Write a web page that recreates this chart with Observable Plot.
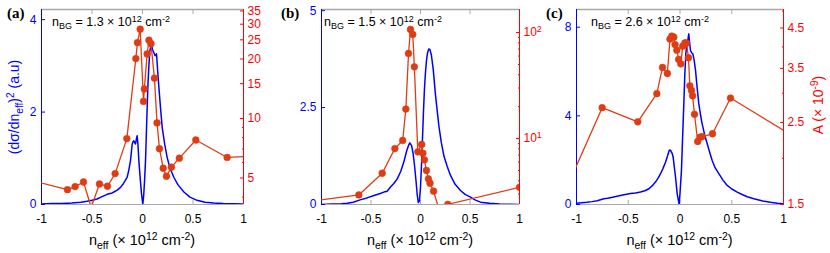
<!DOCTYPE html>
<html><head><meta charset="utf-8">
<script src="https://cdn.jsdelivr.net/npm/d3@7"></script>
<script src="https://cdn.jsdelivr.net/npm/@observablehq/plot@0.6"></script>
<style>
body{margin:0;background:#fff;font-family:"Liberation Sans",Arial,Helvetica,sans-serif;}
#fig{position:relative;width:830px;height:253px;overflow:hidden;background:#fff;}
#fig svg{position:absolute;top:0;}
.t{position:absolute;white-space:nowrap;line-height:1;}
.t .sup{font-size:0.72em;vertical-align:0.5em;line-height:0;}
.t .sub{font-size:0.72em;vertical-align:-0.35em;line-height:0;}
.plab{font-family:"Liberation Serif","Times New Roman",serif;font-weight:bold;font-size:15px;}
.nbg{font-size:12.5px;color:#000;}
.xl{font-size:14.5px;color:#000;transform:translateX(-50%);}
.rot{font-size:14px;transform:translate(-50%,-50%) rotate(-90deg);}
</style></head><body><div id="fig"></div>
<script>
// ---------- data ----------
const xTicks = [-1, -0.5, 0, 0.5, 1];
const panelLabels = ["(a)", "(b)", "(c)"];
const nbgValues = ["1.3", "1.5", "2.6"];

// panel (a)
const aBlueX = [-1.00,-0.90,-0.80,-0.70,-0.61,-0.55,-0.50,-0.45,-0.40,-0.35,-0.30,-0.284,-0.25,-0.218,-0.19,-0.17,-0.152,-0.135,-0.119,-0.102,-0.094,-0.086,-0.078,-0.069,-0.060,-0.053,-0.045,-0.036,-0.022,-0.010,0.003,0.012,0.020,0.030,0.042,0.053,0.063,0.073,0.081,0.089,0.100,0.112,0.125,0.133,0.139,0.150,0.162,0.178,0.195,0.220,0.244,0.270,0.310,0.350,0.410,0.470,0.540,0.620,0.706,0.800,0.900,1.000];
const aBlueY = [0.01,0.02,0.02,0.03,0.05,0.07,0.09,0.12,0.17,0.22,0.25,0.27,0.31,0.37,0.45,0.52,0.59,0.75,0.95,1.31,1.36,1.38,1.34,1.31,1.42,1.49,1.30,0.95,0.55,0.24,0.00,0.20,0.50,0.95,1.80,2.54,3.00,3.33,3.40,3.44,3.35,3.29,3.22,3.24,3.26,2.90,2.54,2.10,1.67,1.30,1.02,0.80,0.59,0.43,0.27,0.16,0.09,0.05,0.03,0.02,0.015,0.01];
const aRedX = [-1.1,-0.743,-0.667,-0.584,-0.508,-0.426,-0.347,-0.271,-0.155,-0.066,-0.050,-0.023,0.010,0.018,0.046,0.064,0.084,0.118,0.144,0.168,0.205,0.237,0.286,0.365,0.528,0.838,1.1];
const aRedY = [4.86,4.36,4.52,4.77,3.55,4.66,4.54,5.26,7.91,20.1,24.2,28.3,12.2,14.1,21.2,24.9,23.9,16.0,9.5,7.03,5.60,5.10,5.67,6.30,7.78,6.35,6.45];
const aBlueTicks = [0, 2, 4];
const aRedTicks = [5, 10, 15, 20, 25, 30, 35];
const aRedMinor = [4, 6, 7, 8, 9];

// panel (b)
const bBlueX = [-1.0,-0.9,-0.8,-0.74,-0.68,-0.61,-0.54,-0.47,-0.40,-0.37,-0.337,-0.303,-0.27,-0.235,-0.20,-0.168,-0.14,-0.12,-0.108,-0.09,-0.075,-0.06,-0.045,-0.033,-0.022,-0.01,0.0,0.01,0.02,0.03,0.04,0.05,0.06,0.07,0.084,0.095,0.11,0.128,0.152,0.185,0.21,0.236,0.27,0.303,0.35,0.404,0.45,0.505,0.55,0.606,0.7,0.8,0.9,1.0];
const bBlueY = [0.0,0.01,0.02,0.03,0.06,0.12,0.17,0.23,0.29,0.32,0.34,0.45,0.54,0.66,0.85,1.1,1.38,1.53,1.59,1.52,1.32,1.0,0.6,0.25,0.05,0.1,0.45,1.0,1.69,2.4,2.98,3.4,3.7,3.9,4.01,4.0,3.85,3.5,2.81,2.04,1.6,1.26,0.98,0.75,0.52,0.36,0.26,0.19,0.12,0.06,0.03,0.015,0.008,0.0];
const bRedX = [-1.1,-0.623,-0.387,-0.259,-0.180,-0.148,-0.121,-0.101,-0.078,-0.062,-0.027,0.012,0.024,0.040,0.060,0.080,0.096,0.132,0.178,0.276,1.0];
const bRedY = [2.57,2.94,4.71,8.05,9.6,19.0,63.5,107,96,47.5,7.5,8.8,7.27,6.3,5.0,4.17,3.79,3.19,2.3,2.40,3.47];
const bBlueTicks = [0, 2.5, 5];
const bRedTicks = [10, 100];
const bRedMinor = [3,4,5,6,7,8,9,20,30,40,50,60,70,80,90];

// panel (c)
const cBlueX = [-1.0,-0.95,-0.9,-0.85,-0.8,-0.736,-0.7,-0.65,-0.6,-0.575,-0.53,-0.478,-0.43,-0.382,-0.34,-0.30,-0.27,-0.237,-0.21,-0.188,-0.165,-0.14,-0.12,-0.105,-0.095,-0.085,-0.075,-0.066,-0.055,-0.043,-0.027,-0.008,0.0,0.014,0.025,0.037,0.046,0.056,0.065,0.075,0.085,0.093,0.101,0.112,0.124,0.137,0.150,0.165,0.182,0.198,0.214,0.238,0.263,0.287,0.311,0.34,0.375,0.415,0.456,0.5,0.553,0.6,0.65,0.714,0.8,0.874,0.94,1.0];
const cBlueY = [0.06,0.08,0.10,0.13,0.17,0.26,0.28,0.33,0.38,0.41,0.45,0.50,0.52,0.56,0.62,0.71,0.84,1.01,1.20,1.39,1.62,1.91,2.20,2.44,2.46,2.39,2.30,2.13,1.70,1.23,0.48,0.0,0.5,1.53,3.0,4.54,5.8,6.8,7.2,7.4,7.7,7.3,6.95,6.85,6.8,6.5,6.05,5.3,4.54,4.05,3.64,3.15,2.74,2.35,1.99,1.65,1.39,1.10,0.86,0.70,0.56,0.45,0.35,0.26,0.16,0.10,0.06,0.03];
const cRedX = [-1.1,-0.752,-0.408,-0.224,-0.169,-0.122,-0.097,-0.079,-0.060,-0.048,-0.031,-0.013,0.008,0.026,0.047,0.063,0.082,0.095,0.111,0.122,0.140,0.171,0.195,0.214,0.314,0.488,1.1];
const cRedY = [1.65,2.74,2.51,2.99,3.52,3.39,4.20,4.28,4.25,4.06,3.92,3.70,3.60,4.02,4.10,4.10,3.74,3.14,3.05,2.95,2.63,2.22,2.28,2.29,2.33,2.91,2.29];
const cBlueTicks = [0, 4, 8];
const cRedTicks = [1.5, 2.5, 3.5, 4.5];
const cRedMinor = [2, 3, 4, 5];

// ---------- drawing ----------
const BLUE = "#0000ff", RED_AXIS = "#ff0000", RED = "#e03c14", GRAY = "#a8a8a8";
const FONT = '"Liberation Sans", Arial, Helvetica, sans-serif';
const fig = document.getElementById("fig");

function zip(xs, ys) { return xs.map((x, i) => ({x, y: ys[i]})); }

function addText(html, cls, left, top, color) {
  const d = document.createElement("div");
  d.className = "t " + cls;
  d.innerHTML = html;
  d.style.left = left + "px";
  d.style.top = top + "px";
  if (color) d.style.color = color;
  fig.appendChild(d);
  return d;
}

function addPanel(cfg) {
  const common = {
    width: cfg.width, height: 253,
    marginLeft: cfg.mL, marginRight: cfg.mR, marginTop: 9, marginBottom: 49,
    style: {background: "transparent", fontFamily: FONT, fontSize: "12px", overflow: "visible"}
  };
  const blue = zip(cfg.bx, cfg.by);
  const red = zip(cfg.rx, cfg.ry);
  const [lo, hi] = cfg.redDomain;
  const redDots = red.filter(d => d.x >= -1 && d.x <= 1 && d.y >= lo && d.y <= hi);

  const p1 = Plot.plot({
    ...common,
    x: {domain: [-1, 1], label: null},
    y: {domain: cfg.blueDomain, label: null},
    marks: [
      Plot.ruleY([cfg.blueDomain[1]], {stroke: GRAY, strokeWidth: 1.6}),
      Plot.ruleY([cfg.blueDomain[0]], {stroke: GRAY, strokeWidth: 1.2}),
      Plot.axisX({anchor: "top", ticks: xTicks, tickSize: -4, tickFormat: () => "", stroke: GRAY, label: null}),
      Plot.axisX({anchor: "bottom", ticks: xTicks, tickSize: -4, tickPadding: 14, tickFormat: d => String(d), stroke: GRAY, fill: "#000", label: null}),
      Plot.line(blue, {x: "x", y: "y", stroke: BLUE, strokeWidth: 1.5, clip: true}),
      Plot.ruleX([-1], {stroke: BLUE, strokeWidth: 1}),
      Plot.axisY({anchor: "left", ticks: cfg.blueTicks, tickSize: -4, tickPadding: 9, tickFormat: d => String(d), color: BLUE, label: null})
    ]
  });
  const p2 = Plot.plot({
    ...common,
    x: {domain: [-1, 1], axis: null, label: null},
    y: {type: "log", domain: cfg.redDomain, label: null},
    marks: [
      Plot.ruleX([1], {stroke: RED_AXIS, strokeWidth: 1}),
      Plot.axisY({anchor: "right", ticks: cfg.redMinor, tickSize: -2, tickFormat: () => "", stroke: RED_AXIS, label: null}),
      Plot.axisY({anchor: "right", ticks: cfg.redTicks, tickSize: -4, tickPadding: 8, tickFormat: cfg.redFormat, color: RED_AXIS, label: null}),
      Plot.line(red, {x: "x", y: "y", stroke: RED, strokeWidth: 1.3, clip: true}),
      Plot.dot(redDots, {x: "x", y: "y", r: 3.4, fill: RED, stroke: RED, strokeWidth: 0.5, clip: true})
    ]
  });
  for (const p of [p1, p2]) {
    p.style.left = cfg.left + "px";
    fig.appendChild(p);
  }
  // superscript tick labels like 10^1
  p2.querySelectorAll("text").forEach(t => {
    const m = /^10\^(\d+)$/.exec(t.textContent);
    if (m) {
      t.textContent = "";
      const ns = "http://www.w3.org/2000/svg";
      const a = document.createElementNS(ns, "tspan"); a.textContent = "10";
      const b = document.createElementNS(ns, "tspan"); b.textContent = m[1];
      b.setAttribute("dy", "-0.45em"); b.setAttribute("font-size", "75%");
      t.appendChild(a); t.appendChild(b);
    }
  });
}

addPanel({left: 0, width: 280, mL: 41, mR: 37, bx: aBlueX, by: aBlueY, rx: aRedX, ry: aRedY,
  blueDomain: [0, 4.22], blueTicks: aBlueTicks, redDomain: [3.67, 35.6], redTicks: aRedTicks, redMinor: aRedMinor,
  redFormat: d => String(d)});
addPanel({left: 280, width: 276, mL: 41, mR: 37, bx: bBlueX, by: bBlueY, rx: bRedX, ry: bRedY,
  blueDomain: [0, 5.03], blueTicks: bBlueTicks, redDomain: [2.39, 165], redTicks: bRedTicks, redMinor: bRedMinor,
  redFormat: d => "10^" + Math.round(Math.log10(d))});
addPanel({left: 556, width: 274, mL: 20, mR: 47, bx: cBlueX, by: cBlueY, rx: cRedX, ry: cRedY,
  blueDomain: [0, 8.8], blueTicks: cBlueTicks, redDomain: [1.5, 5.05], redTicks: cRedTicks, redMinor: cRedMinor,
  redFormat: d => d.toFixed(1)});

// text
const plabX = [7, 281, 546];
panelLabels.forEach((s, i) => addText(s, "plab", plabX[i], 6));
const nbgX = [52, 324, 591];
nbgValues.forEach((v, i) => addText(`n<span class="sub">BG</span> = ${v} &times; 10<span class="sup">12</span> cm<span class="sup">-2</span>`, "nbg", nbgX[i], 15.5));
const xlabX = [142, 420, 679.5];
xlabX.forEach(x => addText(`n<span class="sub">eff</span> (&times; 10<span class="sup">12</span> cm<span class="sup">-2</span>)`, "xl", x, 232.5));
addText(`(d&sigma;/dn<span class="sub">eff</span>)<span class="sup">2</span> (a.u)`, "rot", 14, 106.5, BLUE);
addText(`A (&times; 10<span class="sup">-9</span>)`, "rot", 818, 105, RED_AXIS);
</script></body></html>
